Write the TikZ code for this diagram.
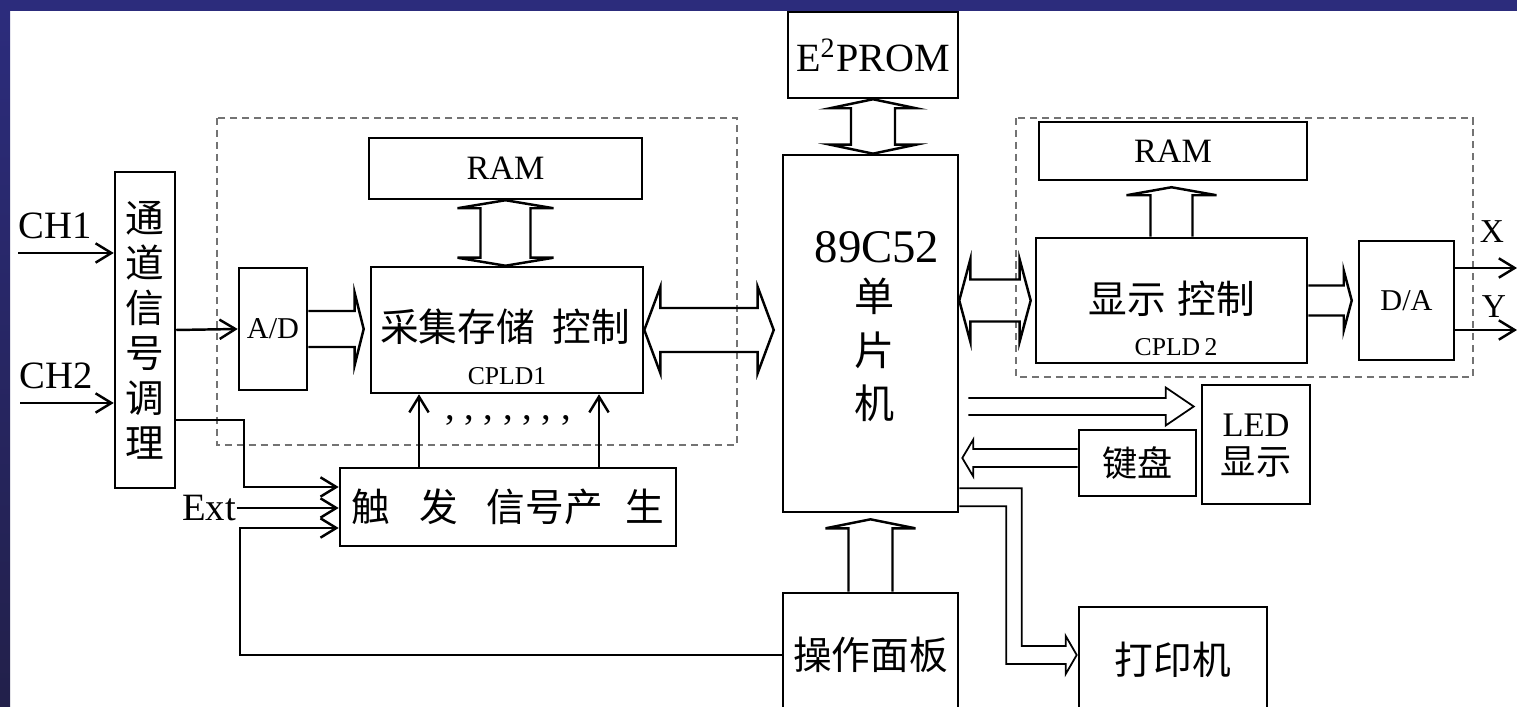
\documentclass[tikz,border=0pt]{standalone}
\usepackage{fontspec}
\setmainfont{Liberation Serif}
\newfontfamily\cjk{Noto Sans CJK SC}
\usetikzlibrary{arrows.meta,calc}
\definecolor{slideblue}{RGB}{44,44,124}
\definecolor{slidedark}{RGB}{34,32,74}

% hollow bus arrows (sizes in px of the picture)
\tikzset{
  bus w/.store in=\busW, bus w=21,
  bus a/.store in=\busA, bus a=43,
  bus l/.store in=\busL, bus l=10,
  bus d/.store in=\busD, bus d=1,
  hbus/.style={to path={
    ([shift={(0,-\busW)}]\tikztostart)
    -- ([shift={({-(\busD)*\busL},-\busW)}]\tikztotarget)
    -- ([shift={({-(\busD)*\busL},-\busA)}]\tikztotarget)
    -- (\tikztotarget)
    -- ([shift={({-(\busD)*\busL},\busA)}]\tikztotarget)
    -- ([shift={({-(\busD)*\busL},\busW)}]\tikztotarget)
    -- ([shift={(0,\busW)}]\tikztostart)}},
  hbus2/.style={to path={
    (\tikztostart)
    -- ([shift={(\busL,-\busA)}]\tikztostart)
    -- ([shift={(\busL,-\busW)}]\tikztostart)
    -- ([shift={(-\busL,-\busW)}]\tikztotarget)
    -- ([shift={(-\busL,-\busA)}]\tikztotarget)
    -- (\tikztotarget)
    -- ([shift={(-\busL,\busA)}]\tikztotarget)
    -- ([shift={(-\busL,\busW)}]\tikztotarget)
    -- ([shift={(\busL,\busW)}]\tikztostart)
    -- ([shift={(\busL,\busA)}]\tikztostart)
    -- cycle}},
  vbus/.style={to path={
    ([shift={(-\busW,0)}]\tikztostart)
    -- ([shift={(-\busW,{-(\busD)*\busL})}]\tikztotarget)
    -- ([shift={(-\busA,{-(\busD)*\busL})}]\tikztotarget)
    -- (\tikztotarget)
    -- ([shift={(\busA,{-(\busD)*\busL})}]\tikztotarget)
    -- ([shift={(\busW,{-(\busD)*\busL})}]\tikztotarget)
    -- ([shift={(\busW,0)}]\tikztostart)}},
  vbus2/.style={to path={
    (\tikztostart)
    -- ([shift={(-\busA,\busL)}]\tikztostart)
    -- ([shift={(-\busW,\busL)}]\tikztostart)
    -- ([shift={(-\busW,-\busL)}]\tikztotarget)
    -- ([shift={(-\busA,-\busL)}]\tikztotarget)
    -- (\tikztotarget)
    -- ([shift={(\busA,-\busL)}]\tikztotarget)
    -- ([shift={(\busW,-\busL)}]\tikztotarget)
    -- ([shift={(\busW,\busL)}]\tikztostart)
    -- ([shift={(\busA,\busL)}]\tikztostart)
    -- cycle}}
}

\begin{document}
\begin{tikzpicture}[x=0.01cm, y=-0.01cm,
  every node/.style={font=\fontsize{11pt}{13pt}\selectfont, inner sep=1pt},
  blk/.style={draw, line width=0.7pt, inner sep=0pt},
  zh/.style={font=\cjk\fontsize{11pt}{13pt}\selectfont},
  zhv/.style={font=\cjk\fontsize{11pt}{12.8pt}\selectfont, align=center},
  small/.style={font=\fontsize{8.6pt}{10pt}\selectfont},
  tiny/.style={font=\fontsize{7.3pt}{9pt}\selectfont},
  grp/.style={draw=black!55, line width=0.6pt, dash pattern=on 2pt off 1.4pt},
  sig/.style={line width=0.7pt, -{Straight Barb[length=4.5pt,width=5.5pt]}},
  bus/.style={line width=0.7pt},
  thinbus/.style={line width=0.5pt}
]
% slide frame
\useasboundingbox (0,0) rectangle (1517,707);
\fill[white] (0,0) rectangle (1517,707);
\fill[slideblue] (0,0) rectangle (1517,11);
\shade[top color=slideblue, bottom color=slidedark] (0,11) rectangle (10,707);

% CPLD groups
\draw[grp] (217,118) rectangle (737,445);
\draw[grp] (1016,118) rectangle (1473,377);

% acquisition side
\node[blk, zhv, minimum width=0.6cm, minimum height=3.16cm] (cond) at (145,330) {通\\道\\信\\号\\调\\理};
\node[blk, small, minimum width=0.68cm, minimum height=1.22cm] (ad) at (273,329) {A/D};
\node[blk, minimum width=2.72cm, minimum height=1.26cm] (acq) at (507,330) {};
\node[zh] (acqt) at (505,327) {采集存储\hspace{0.45em}控制};
\node[tiny] (cpld1) at (507,376) {CPLD1};
\node[blk, font=\fontsize{9.7pt}{11pt}\selectfont, minimum width=2.73cm, minimum height=0.61cm] (ram1) at (505.5,168.5) {RAM};
\node[blk, zh, minimum width=3.36cm, minimum height=0.78cm] (trig) at (508,507) {触\hspace{0.75em}发\hspace{0.75em}信号产\hspace{0.6em}生};
\node (dots) at (508,420) {, , , , , , ,};
\node (ch1) at (55,226) {CH1};
\node (ch2) at (56,376) {CH2};
\node[inner sep=0pt] (ext) at (209,508) {Ext};

% MCU
\node[blk, minimum width=1.75cm, minimum height=3.57cm] (mcu) at (870.5,333.5) {};
\node[font=\fontsize{13.3pt}{15pt}\selectfont] (mcut) at (877,247) {89C52};
\node[zhv, font=\cjk\fontsize{11.4pt}{15.3pt}\selectfont] (mcuzh) at (875,350) {单\\片\\机};
\node[blk, font=\fontsize{11.4pt}{13pt}\selectfont, minimum width=1.7cm, minimum height=0.86cm] (eep) at (873,55) {E\textsuperscript{2}PROM};
\node[blk, zh, minimum width=1.75cm, minimum height=1.24cm] (panel) at (870.5,655) {操作面板};

% display side
\node[blk, font=\fontsize{9.7pt}{11pt}\selectfont, minimum width=2.68cm, minimum height=0.58cm] (ram2) at (1173,151) {RAM};
\node[blk, minimum width=2.71cm, minimum height=1.25cm] (disp) at (1171.5,300.5) {};
\node[zh] (dispt) at (1172,299) {显示\hspace{0.3em}控制};
\node[tiny] (cpld2) at (1176,347) {CPLD\,2};
\node[blk, small, minimum width=0.95cm, minimum height=1.19cm] (da) at (1406.5,300.5) {D/A};
\node[font=\fontsize{9.5pt}{11pt}\selectfont] (xl) at (1492,232) {X};
\node[font=\fontsize{9.5pt}{11pt}\selectfont] (yl) at (1494,307) {Y};
\node[blk, minimum width=1.08cm, minimum height=1.19cm] (led) at (1256,444.5) {};
\node[font=\fontsize{9.8pt}{11pt}\selectfont] (ledt) at (1256,425) {LED};
\node[zh, font=\cjk\fontsize{10pt}{12pt}\selectfont] (ledzh) at (1256,462) {显示};
\node[blk, zh, font=\cjk\fontsize{10pt}{12pt}\selectfont, minimum width=1.17cm, minimum height=0.66cm] (kbd) at (1137.5,463) {键盘};
\node[blk, zh, minimum width=1.88cm, minimum height=1.06cm] (prn) at (1173,660) {打印机};

% signal lines
\coordinate (in1) at (18,253);
\coordinate (in2) at (20,403);
\coordinate (fb) at (240,528);
\coordinate (xo) at (1517,268);
\coordinate (yo) at (1517,330);
\draw[sig] (in1) -- (in1 -| cond.west);
\draw[sig] (in2) -- (in2 -| cond.west);
\draw[sig] (cond.east) -- (ad.west);
\draw[sig] (cond.east |- 0,420) -| ++(68,67) -- (trig.west |- 0,487);
\draw[sig] (ext.east) -- (ext.east -| trig.west);
\draw[sig] (panel.west) -| (fb) -- (fb -| trig.west);
\draw[sig] (trig.north) ++(-89,0) coordinate (u1) -- (u1 |- acq.south);
\draw[sig] (trig.north) ++(91,0) coordinate (u2) -- (u2 |- acq.south);
\draw[sig] (da.east |- xo) -- (xo);
\draw[sig] (da.east |- yo) -- (yo);

% buses
\draw[bus, hbus, bus w=18, bus a=36, bus l=9] (ad.east) to ($(ad.east -| acq.west)+(-6,0)$);
\draw[bus, vbus2, bus w=25, bus a=48, bus l=8] (ram1.south) to (ram1.south |- acq.north);
\draw[bus, hbus2, bus w=22, bus a=43, bus l=16] (acq.east) to ($(acq.east -| mcu.west)+(-8,0)$);
\draw[bus, vbus2, bus w=22, bus a=43, bus l=9] (eep.south) to (eep.south |- mcu.north);
\draw[bus, hbus2, bus w=21, bus a=41, bus l=11] (mcu.east |- disp.west) to ($(disp.west)+(-4,0)$);
\draw[bus, vbus, bus d=-1, bus w=21, bus a=45, bus l=8] (disp.north) to ($(disp.north |- ram2.south)+(0,6)$);
\draw[bus, hbus, bus w=15, bus a=30, bus l=8] (disp.east) to ($(disp.east -| da.west)+(-6,0)$);
\draw[bus, vbus, bus d=-1, bus w=22, bus a=45, bus l=9] (panel.north) to ($(panel.north |- mcu.south)+(0,6)$);
\draw[thinbus, hbus, bus w=8.5, bus a=19, bus l=28] ($(mcu.east |- led.west)+(9,-38)$) to ($(led.west)+(-7,-38)$);
\draw[thinbus, hbus, bus d=-1, bus w=9, bus a=18.5, bus l=11] ($(kbd.west)+(0,-5)$) to ($(mcu.east |- kbd.west)+(3,-5)$);

% printer bus
\coordinate (pa) at ($(mcu.south east)+(0,-25)$);
\coordinate (pb) at ($(mcu.south east)+(0,-7)$);
\coordinate (pt) at ($(prn.west)+(-1,-5)$);
\draw[thinbus] (pa) -| ($(pt)+(-55,-9)$) -- ($(pt)+(-11,-9)$) -- ($(pt)+(-11,-19)$) -- (pt)
  -- ($(pt)+(-11,19)$) -- ($(pt)+(-11,9)$) -| ($(pa)+(47,18)$) -- (pb);
\end{tikzpicture}
\end{document}
